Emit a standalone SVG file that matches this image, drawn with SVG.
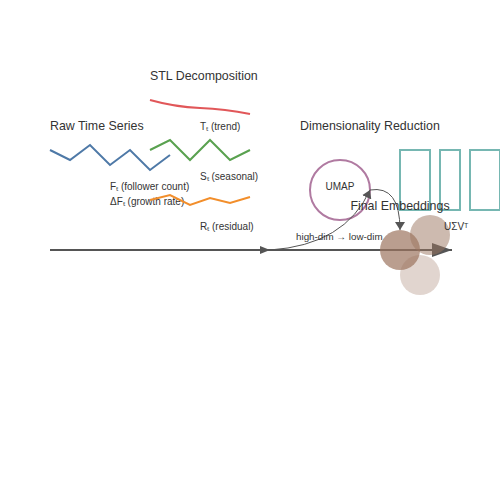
<svg xmlns="http://www.w3.org/2000/svg" width="500" height="500" viewBox="0 0 500 500">
<defs>
<style>
text{font-family:"Liberation Sans",Arial,sans-serif;fill:#333}
.h{font-size:12.4px}
.s{font-size:10px}
.ser{fill:none;stroke-width:2}
.conn{fill:none;stroke:#555}
</style>
<marker id="small" viewBox="0 0 10 8" refX="10" refY="4" markerWidth="10" markerHeight="8" markerUnits="userSpaceOnUse" orient="auto"><path d="M0,0L10,4L0,8z" fill="#555"/></marker>
<marker id="big" viewBox="0 0 20 14" refX="20" refY="7" markerWidth="20" markerHeight="14" markerUnits="userSpaceOnUse" orient="auto"><path d="M0,0L20,7L0,14z" fill="#555"/></marker>
<marker id="thin" viewBox="0 0 8 10" refX="8" refY="5" markerWidth="8" markerHeight="10" markerUnits="userSpaceOnUse" orient="auto"><path d="M0,0L8,5L0,10z" fill="#555"/></marker>
</defs>
<g id="raw">
<text class="h" x="50" y="130">Raw Time Series</text>
<polyline class="ser" stroke="#4e79a7" points="50,150 70,160 90,145 110,165 130,150 150,170 170,155"/>
<text class="s" x="110" y="190">Fₜ (follower count)</text>
<text class="s" x="110" y="205">ΔFₜ (growth rate)</text>
</g>
<g id="stl">
<text class="h" x="150" y="80">STL Decomposition</text>
<path class="ser" stroke="#e15759" d="M150,100 Q175,107 200,108 T250,114"/>
<text class="s" x="200" y="130">Tₜ (trend)</text>
<polyline class="ser" stroke="#59a14f" points="150,150 170,140 190,160 210,140 230,160 250,150"/>
<text class="s" x="200" y="180">Sₜ (seasonal)</text>
<polyline class="ser" stroke="#f28e2b" points="150,200 170,195 190,205 210,198 230,203 250,197"/>
<text class="s" x="200" y="230">Rₜ (residual)</text>
</g>
<g id="dimred">
<text class="h" x="300" y="130">Dimensionality Reduction</text>
<circle cx="340" cy="190" r="30" fill="none" stroke="#b07aa1" stroke-width="2"/>
<text class="s" x="340" y="190" text-anchor="middle">UMAP</text>
<rect x="400" y="150" width="30" height="60" fill="none" stroke="#76b7b2" stroke-width="2"/>
<rect x="440" y="150" width="20" height="60" fill="none" stroke="#76b7b2" stroke-width="2"/>
<rect x="470" y="150" width="30" height="60" fill="none" stroke="#76b7b2" stroke-width="2"/>
</g>
<g id="connectors">
<line class="conn" stroke-width="2" x1="50" y1="250" x2="270" y2="250" marker-end="url(#small)"/>
<line class="conn" stroke-width="2" x1="270" y1="250" x2="452" y2="250" marker-end="url(#big)"/>
<path class="conn" d="M270,250 Q345,245 370,190" marker-end="url(#thin)"/>
<path class="conn" d="M370,190 Q400,185 400,230" marker-end="url(#thin)"/>
<text x="296" y="240" style="font-size:9.8px">high-dim → low-dim</text>
</g>
<g id="embeddings">
<text class="h" x="400" y="210" text-anchor="middle">Final Embeddings</text>
<circle cx="400" cy="250" r="20" fill="#9c755f" fill-opacity="0.7"/>
<circle cx="430" cy="235" r="20" fill="#9c755f" fill-opacity="0.5"/>
<circle cx="420" cy="275" r="20" fill="#9c755f" fill-opacity="0.3"/>
<text class="s" x="444" y="230">UΣVᵀ</text>
</g>
</svg>
